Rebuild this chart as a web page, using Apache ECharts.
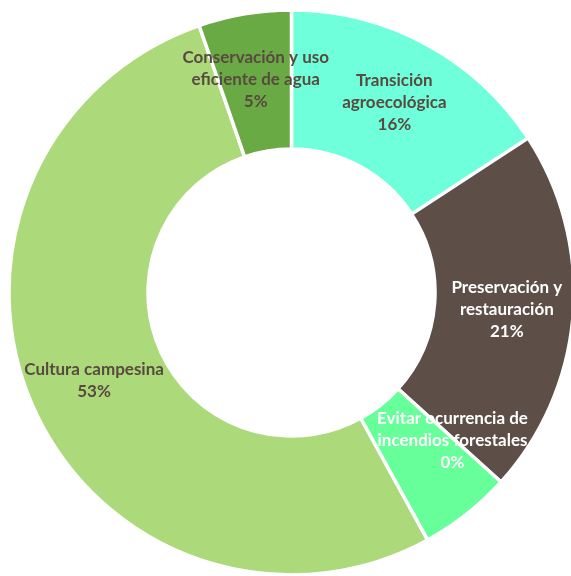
<!DOCTYPE html>
<html>
<head>
<meta charset="utf-8">
<script src="https://cdn.jsdelivr.net/npm/echarts@6/dist/echarts.min.js"></script>
<style>
  html, body { margin: 0; padding: 0; background: #fff; }
  #chart { width: 571px; height: 576px; }
</style>
</head>
<body>
<div id="chart"></div>
<script>
const categories = [
    'Transición\nagroecológica',
    'Preservación y\nrestauración',
    'Evitar ocurrencia de\nincendios forestales',
    'Cultura campesina',
    'Conservación y uso\neficiente de agua'
]
const values = [15.8, 20.9, 5.3, 52.7, 5.3]
const pctLabels = ['16%', '21%', '0%', '53%', '5%']
const colors = ['#6fffda', '#5d4f47', '#66ff99', '#acd97a', '#6aaa45']

const textDark = '#594a40'
const labelColors = [textDark, '#ffffff', '#ffffff', textDark, textDark]
// the "Evitar" label sits off its slice in the original
const labelOffsets = [[0, 0], [0, 0], [27, -21], [0, 0], [0, 0]]

const data = categories.map((name, i) => ({
    name: name,
    value: values[i],
    itemStyle: { color: colors[i] },
    label: {
        color: labelColors[i],
        offset: labelOffsets[i],
        formatter: name + '\n' + pctLabels[i]
    }
}))

const myChart = echarts.init(document.getElementById('chart'))
const option = {
    animation: false,
    series: [
        {
            type: 'pie',
            center: [291.5, 292.5],
            radius: [143.5, 282.5],
            startAngle: 90,
            clockwise: true,
            itemStyle: {
                borderColor: '#ffffff',
                borderWidth: 3.5
            },
            label: {
                show: true,
                position: 'inside',
                fontFamily: 'Lato',
                fontWeight: 'bold',
                fontSize: 17,
                lineHeight: 22,
                align: 'center'
            },
            labelLine: { show: false },
            data: data
        }
    ]
}
myChart.setOption(option)
</script>
</body>
</html>
